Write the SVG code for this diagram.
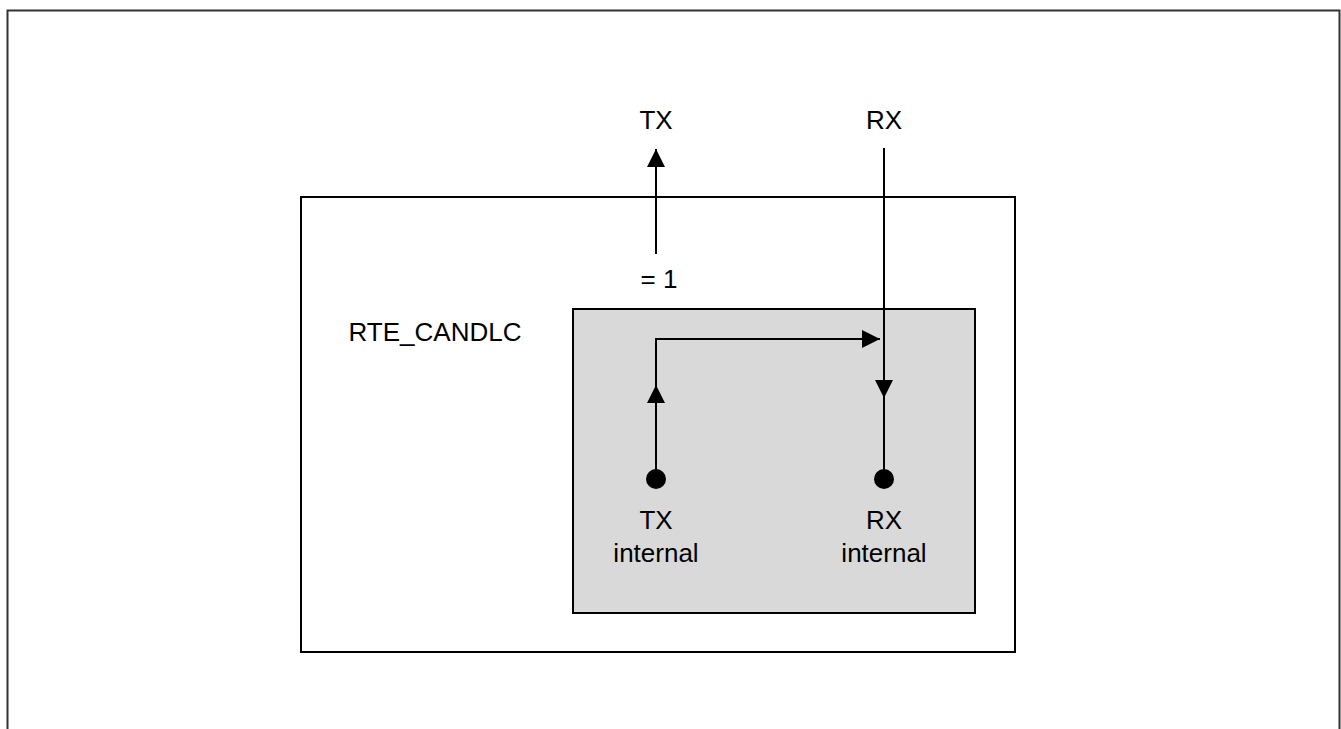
<svg xmlns="http://www.w3.org/2000/svg" width="1341" height="729" viewBox="0 0 1341 729">
<style>
text{font-family:"Liberation Sans",Arial,sans-serif;font-size:26px;fill:#000;text-anchor:middle}
.ln{stroke:#000;stroke-width:2;fill:none}
</style>
<defs>
<marker id="ah" viewBox="0 0 18 18" refX="18" refY="9" markerWidth="18" markerHeight="18" markerUnits="userSpaceOnUse" orient="auto">
<path d="M0,0 L18,9 L0,18 Z" fill="#000"/>
</marker>
</defs>
<rect width="1341" height="729" fill="#fff"/>
<g id="frame"><path d="M7.5,740 V10.5 H1339.5 V740" fill="none" stroke="#333" stroke-width="2"/></g>
<g id="module"><rect x="301" y="197" width="714" height="455" fill="#fff" stroke="#000" stroke-width="2"/>
<text x="435" y="341">RTE_CANDLC</text></g>
<g id="loopback"><rect x="573" y="309" width="402" height="304" fill="#d9d9d9" stroke="#000" stroke-width="2"/></g>
<g id="tx-ext"><text x="656" y="129">TX</text></g>
<g id="rx-ext"><text x="884" y="129">RX</text></g>
<g id="xor"><text x="659" y="288">= 1</text></g>
<g id="tx-int"><circle cx="656" cy="479" r="10" fill="#000"/><text x="656" y="529">TX</text><text x="656" y="562">internal</text></g>
<g id="rx-int"><circle cx="884" cy="479" r="10" fill="#000"/><text x="884" y="529">RX</text><text x="884" y="562">internal</text></g>
<g id="connectors">
<line class="ln" x1="656" y1="254" x2="656" y2="149" marker-end="url(#ah)"/>
<line class="ln" x1="884" y1="148" x2="884" y2="479"/>
<line class="ln" x1="884" y1="300" x2="884" y2="398" marker-end="url(#ah)"/>
<line class="ln" x1="656" y1="479" x2="656" y2="385" marker-end="url(#ah)"/>
<polyline class="ln" points="656,386 656,339 880,339" marker-end="url(#ah)"/>
</g>
</svg>
